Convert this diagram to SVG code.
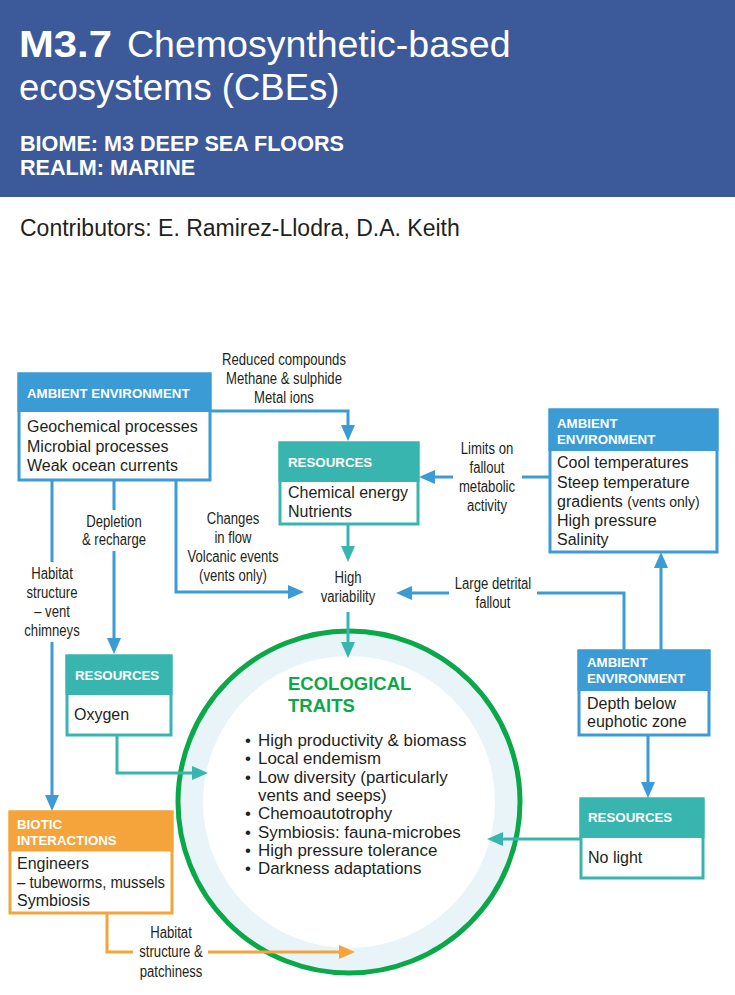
<svg xmlns="http://www.w3.org/2000/svg" width="735" height="995" viewBox="0 0 735 995">
  <style>
    .hd-title { font-family: "Liberation Sans", Arial, sans-serif; fill: #ffffff; }
    .hd-sub { font-family: "Liberation Sans", Arial, sans-serif; font-weight: bold; font-size: 21.6px; fill: #ffffff; }
    .contrib { font-family: "Liberation Sans", Arial, sans-serif; font-size: 23px; fill: #231f20; }
    .box-head { font-family: "Liberation Sans", Arial, sans-serif; font-weight: bold; font-size: 13.3px; fill: #ffffff; }
    .box-body { font-family: "Liberation Sans", Arial, sans-serif; font-size: 16px; fill: #231f20; }
    .small { font-size: 14px; }
    .lbl { font-family: "Liberation Sans", Arial, sans-serif; font-size: 16px; fill: #231f20; text-anchor: middle; }
    .traits-head { font-family: "Liberation Sans", Arial, sans-serif; font-weight: bold; font-size: 18.5px; fill: #0ba84a; }
    .traits { font-family: "Liberation Sans", Arial, sans-serif; font-size: 16.9px; fill: #231f20; }
    .fr-blue { fill: #ffffff; stroke: #3a9bd5; stroke-width: 3; }
    .fr-teal { fill: #ffffff; stroke: #39b5b0; stroke-width: 3; }
    .fr-orange { fill: #ffffff; stroke: #f5a43c; stroke-width: 3; }
    .hb-blue { fill: #3a9bd5; }
    .hb-teal { fill: #39b5b0; }
    .hb-orange { fill: #f5a43c; }
    .c-blue { fill: none; stroke: #3a9bd5; stroke-width: 3; }
    .c-teal { fill: none; stroke: #39b5b0; stroke-width: 3; }
    .c-orange { fill: none; stroke: #f5a43c; stroke-width: 3; }
  </style>
  <defs>
    <marker id="ah-blue" markerUnits="userSpaceOnUse" markerWidth="16" markerHeight="14" refX="1" refY="7" orient="auto">
      <path d="M0,0 L16,7 L0,14 z" fill="#3a9bd5"/>
    </marker>
    <marker id="ah-teal" markerUnits="userSpaceOnUse" markerWidth="16" markerHeight="14" refX="1" refY="7" orient="auto">
      <path d="M0,0 L16,7 L0,14 z" fill="#39b5b0"/>
    </marker>
    <marker id="ah-orange" markerUnits="userSpaceOnUse" markerWidth="16" markerHeight="14" refX="1" refY="7" orient="auto">
      <path d="M0,0 L16,7 L0,14 z" fill="#f5a43c"/>
    </marker>
  </defs>

  <!-- title banner -->
  <g id="header">
    <rect x="0" y="0" width="735" height="197" fill="#3c5a99"/>
    <text class="hd-title" x="19" y="57" font-size="37" font-weight="bold" textLength="93" lengthAdjust="spacingAndGlyphs">M3.7</text>
    <text class="hd-title" x="127" y="57" font-size="37.5">Chemosynthetic-based</text>
    <text class="hd-title" x="19" y="100" font-size="36.5">ecosystems (CBEs)</text>
    <text class="hd-sub" x="20" y="151">BIOME: M3 DEEP SEA FLOORS</text>
    <text class="hd-sub" x="20" y="175">REALM: MARINE</text>
  </g>
  <text class="contrib" x="20" y="236">Contributors: E. Ramirez-Llodra, D.A. Keith</text>

  <!-- ecological traits ring -->
  <g id="ecological-traits">
    <circle cx="349" cy="802" r="171" fill="#e9f4f8" stroke="#0ba84a" stroke-width="5"/>
    <circle cx="349" cy="802" r="146" fill="#ffffff"/>
    <text class="traits-head" x="288" y="690">ECOLOGICAL</text>
    <text class="traits-head" x="288" y="712">TRAITS</text>
    <g class="traits">
      <text x="245" y="746">•</text><text x="258" y="746">High productivity &amp; biomass</text>
      <text x="245" y="764">•</text><text x="258" y="764">Local endemism</text>
      <text x="245" y="783">•</text><text x="258" y="783">Low diversity (particularly</text>
      <text x="258" y="801">vents and seeps)</text>
      <text x="245" y="819">•</text><text x="258" y="819">Chemoautotrophy</text>
      <text x="245" y="838">•</text><text x="258" y="838">Symbiosis: fauna-microbes</text>
      <text x="245" y="856">•</text><text x="258" y="856">High pressure tolerance</text>
      <text x="245" y="874">•</text><text x="258" y="874">Darkness adaptations</text>
    </g>
  </g>

  <!-- connectors -->
  <g id="connectors">
    <!-- blue: ambient environment drivers -->
    <path class="c-blue" d="M209,411 H348 V426" marker-end="url(#ah-blue)"/>
    <path class="c-blue" d="M550,477 H522"/>
    <path class="c-blue" d="M453,477 H434" marker-end="url(#ah-blue)"/>
    <path class="c-blue" d="M176,479 V592 H289" marker-end="url(#ah-blue)"/>
    <path class="c-blue" d="M114,479 V510"/>
    <path class="c-blue" d="M114,551 V639" marker-end="url(#ah-blue)"/>
    <path class="c-blue" d="M52,479 V562"/>
    <path class="c-blue" d="M52,642 V796" marker-end="url(#ah-blue)"/>
    <path class="c-blue" d="M661,651 V567" marker-end="url(#ah-blue)"/>
    <path class="c-blue" d="M624,651 V593 H537"/>
    <path class="c-blue" d="M449,593 H411" marker-end="url(#ah-blue)"/>
    <path class="c-blue" d="M648,735 V783" marker-end="url(#ah-blue)"/>
    <!-- teal: resources -->
    <path class="c-teal" d="M348,524 V547" marker-end="url(#ah-teal)"/>
    <path class="c-teal" d="M348,612 V643" marker-end="url(#ah-teal)"/>
    <path class="c-teal" d="M117,735 V773 H193" marker-end="url(#ah-teal)"/>
    <path class="c-teal" d="M581,839 H502" marker-end="url(#ah-teal)"/>
    <!-- orange: biotic interactions -->
    <path class="c-orange" d="M107,913 V952 H133"/>
    <path class="c-orange" d="M208,952 H340" marker-end="url(#ah-orange)"/>

    <!-- connector labels (condensed by a horizontal scale about each centre line) -->
    <g class="lbl" transform="translate(284,0) scale(0.82,1)">
      <text x="0" y="365">Reduced compounds</text>
      <text x="0" y="384">Methane &amp; sulphide</text>
      <text x="0" y="403">Metal ions</text>
    </g>
    <g class="lbl" transform="translate(487,0) scale(0.82,1)">
      <text x="0" y="454">Limits on</text>
      <text x="0" y="473">fallout</text>
      <text x="0" y="492">metabolic</text>
      <text x="0" y="511">activity</text>
    </g>
    <g class="lbl" transform="translate(233,0) scale(0.82,1)">
      <text x="0" y="524">Changes</text>
      <text x="0" y="543">in flow</text>
      <text x="0" y="562">Volcanic events</text>
      <text x="0" y="581">(vents only)</text>
    </g>
    <g class="lbl" transform="translate(348,0) scale(0.82,1)">
      <text x="0" y="583">High</text>
      <text x="0" y="602">variability</text>
    </g>
    <g class="lbl" transform="translate(493,0) scale(0.82,1)">
      <text x="0" y="589">Large detrital</text>
      <text x="0" y="608">fallout</text>
    </g>
    <g class="lbl" transform="translate(114,0) scale(0.82,1)">
      <text x="0" y="527">Depletion</text>
      <text x="0" y="545">&amp; recharge</text>
    </g>
    <g class="lbl" transform="translate(52,0) scale(0.82,1)">
      <text x="0" y="579">Habitat</text>
      <text x="0" y="598">structure</text>
      <text x="0" y="617">– vent</text>
      <text x="0" y="636">chimneys</text>
    </g>
    <g class="lbl" transform="translate(171,0) scale(0.82,1)">
      <text x="0" y="938">Habitat</text>
      <text x="0" y="957">structure &amp;</text>
      <text x="0" y="977">patchiness</text>
    </g>
  </g>

  <!-- ambient environment: geochemistry -->
  <g id="ambient-geochem">
    <rect class="fr-blue" x="19" y="374" width="191" height="106"/>
    <rect class="hb-blue" x="17.5" y="372.5" width="194" height="39.5"/>
    <text class="box-head" x="27" y="398">AMBIENT ENVIRONMENT</text>
    <text class="box-body" x="27" y="432">Geochemical processes</text>
    <text class="box-body" x="27" y="452">Microbial processes</text>
    <text class="box-body" x="27" y="471">Weak ocean currents</text>
  </g>

  <!-- resources: chemical energy -->
  <g id="resources-chemical">
    <rect class="fr-teal" x="280" y="443" width="138" height="81"/>
    <rect class="hb-teal" x="278.5" y="441.5" width="141" height="40.5"/>
    <text class="box-head" x="288" y="467">RESOURCES</text>
    <text class="box-body" x="288" y="498">Chemical energy</text>
    <text class="box-body" x="288" y="517">Nutrients</text>
  </g>

  <!-- ambient environment: physical conditions -->
  <g id="ambient-physical">
    <rect class="fr-blue" x="550" y="410" width="167" height="142"/>
    <rect class="hb-blue" x="548.5" y="408.5" width="170" height="42.5"/>
    <text class="box-head" x="557" y="428">AMBIENT</text>
    <text class="box-head" x="557" y="444">ENVIRONMENT</text>
    <text class="box-body" x="557" y="468">Cool temperatures</text>
    <text class="box-body" x="557" y="488">Steep temperature</text>
    <text class="box-body" x="557" y="507">gradients <tspan class="small">(vents only)</tspan></text>
    <text class="box-body" x="557" y="526">High pressure</text>
    <text class="box-body" x="557" y="545">Salinity</text>
  </g>

  <!-- resources: oxygen -->
  <g id="resources-oxygen">
    <rect class="fr-teal" x="67" y="656" width="104" height="79"/>
    <rect class="hb-teal" x="65.5" y="654.5" width="107" height="40.5"/>
    <text class="box-head" x="75" y="680">RESOURCES</text>
    <text class="box-body" x="74" y="720">Oxygen</text>
  </g>

  <!-- biotic interactions -->
  <g id="biotic-interactions">
    <rect class="fr-orange" x="10" y="812" width="162" height="101"/>
    <rect class="hb-orange" x="8.5" y="810.5" width="165" height="41"/>
    <text class="box-head" x="17" y="829">BIOTIC</text>
    <text class="box-head" x="17" y="845">INTERACTIONS</text>
    <text class="box-body" x="17" y="869">Engineers</text>
    <text class="box-body" x="17" y="888" textLength="148" lengthAdjust="spacingAndGlyphs">– tubeworms, mussels</text>
    <text class="box-body" x="17" y="906">Symbiosis</text>
  </g>

  <!-- ambient environment: depth -->
  <g id="ambient-depth">
    <rect class="fr-blue" x="579" y="651" width="130" height="84"/>
    <rect class="hb-blue" x="577.5" y="649.5" width="133" height="41.5"/>
    <text class="box-head" x="587" y="667">AMBIENT</text>
    <text class="box-head" x="587" y="683">ENVIRONMENT</text>
    <text class="box-body" x="587" y="709">Depth below</text>
    <text class="box-body" x="587" y="727">euphotic zone</text>
  </g>

  <!-- resources: light -->
  <g id="resources-light">
    <rect class="fr-teal" x="581" y="799" width="122" height="79"/>
    <rect class="hb-teal" x="579.5" y="797.5" width="125" height="40.5"/>
    <text class="box-head" x="588" y="822">RESOURCES</text>
    <text class="box-body" x="588" y="863">No light</text>
  </g>
</svg>
